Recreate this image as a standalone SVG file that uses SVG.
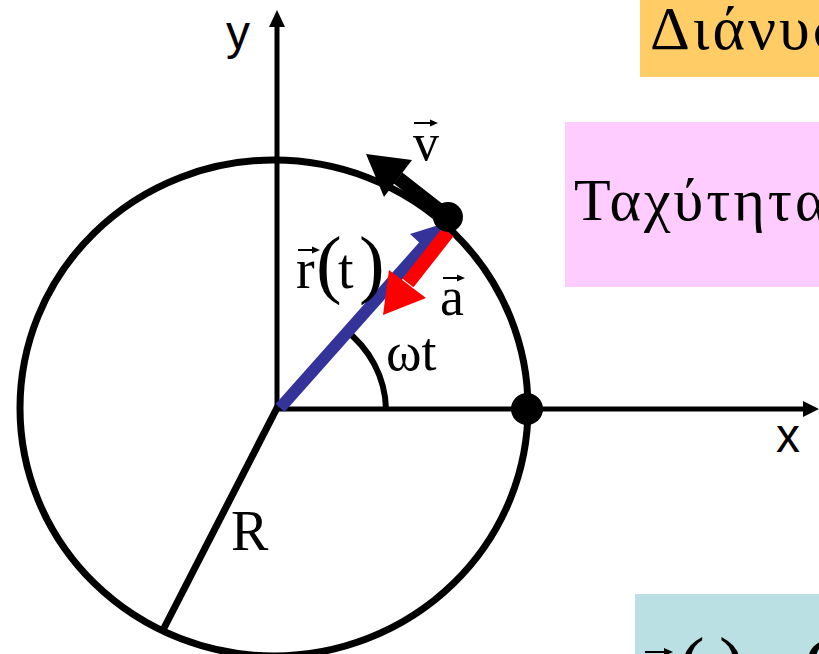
<svg xmlns="http://www.w3.org/2000/svg" width="819" height="654" viewBox="0 0 819 654">
<style>
.ser{font-family:"Liberation Serif","Times New Roman",serif;fill:#000}
.san{font-family:"Liberation Sans",Arial,sans-serif;fill:#000}
.blk{stroke:#000;fill:none}
</style>
<rect width="819" height="654" fill="#fff"/>
<g id="box-orange">
<rect x="640" y="0" width="200" height="77" fill="#FFCC66"/>
<text class="ser" x="650" y="49" font-size="62" letter-spacing="3">Διάνυσ</text>
</g>
<g id="box-pink">
<rect x="565" y="122" width="270" height="165" fill="#FFCCFF"/>
<text class="ser" x="574" y="220" font-size="60" letter-spacing="3">Ταχύτητα</text>
</g>
<g id="box-cyan">
<rect x="635" y="594" width="200" height="70" fill="#BBE0E3"/>
<path d="M645 652 H668" stroke="#000" stroke-width="2"/>
<path d="M673 652 L664 648 L664 656 Z" fill="#000"/>
<text class="ser" x="679" y="690" font-size="77">(</text>
<text class="ser" x="719" y="690" font-size="77">)</text>
<text class="ser" x="804" y="690" font-size="77">C</text>
</g>
<g id="circle">
<ellipse class="blk" cx="274" cy="408" rx="254" ry="248" stroke-width="7"/>
</g>
<g id="connectors">
<line class="blk" x1="277" y1="410" x2="277" y2="26" stroke-width="5"/>
<path d="M277 10 L269 27 L285 27 Z" fill="#000"/>
<line class="blk" x1="275" y1="409" x2="805" y2="409" stroke-width="5"/>
<path d="M819 409 L803 401 L803 417 Z" fill="#000"/>
<line class="blk" x1="278" y1="406" x2="163" y2="630" stroke-width="7"/>
<path class="blk" d="M344 329 A108 104 0 0 1 386 409" stroke-width="6"/>
</g>
<g id="radius-vector">
<line x1="280" y1="408" x2="424" y2="246" stroke="#333399" stroke-width="12"/>
<path d="M442 224 L410 234 L435 257 Z" fill="#333399"/>
</g>
<g id="acceleration-vector">
<line x1="448" y1="232" x2="408" y2="283" stroke="#FF0000" stroke-width="14"/>
<path d="M383 315 L389 270 L426 298 Z" fill="#FF0000"/>
</g>
<g id="velocity-vector">
<line x1="448" y1="217" x2="398" y2="178" stroke="#000" stroke-width="14"/>
<path d="M366 154 L412 160 L384 197 Z" fill="#000"/>
</g>
<g id="points">
<circle cx="448" cy="217" r="15" fill="#000"/>
<circle cx="527" cy="409" r="16" fill="#000"/>
</g>
<g id="labels">
<text class="san" x="226" y="49" font-size="48">y</text>
<text class="san" x="776" y="452" font-size="48">x</text>
<text class="ser" x="231" y="550" font-size="56">R</text>
<text class="ser" x="386" y="370" font-size="54">ωt</text>
<text class="ser" x="413" y="160" font-size="52">v</text>
<path d="M414 123 H432" stroke="#000" stroke-width="2"/>
<path d="M438 123 L430 119.5 L430 126.5 Z" fill="#000"/>
<text class="ser" x="440" y="315" font-size="54">a</text>
<path d="M443 278 H459" stroke="#000" stroke-width="2"/>
<path d="M465 278 L457 274.5 L457 281.5 Z" fill="#000"/>
<text class="ser" x="296" y="288" font-size="56">r</text>
<path d="M298 250 H314" stroke="#000" stroke-width="2"/>
<path d="M320 250 L312 246.5 L312 253.5 Z" fill="#000"/>
<text class="ser" x="316" y="289" font-size="77">(</text>
<text class="ser" x="338" y="288" font-size="56">t</text>
<text class="ser" x="359" y="289" font-size="77">)</text>
</g>
</svg>
